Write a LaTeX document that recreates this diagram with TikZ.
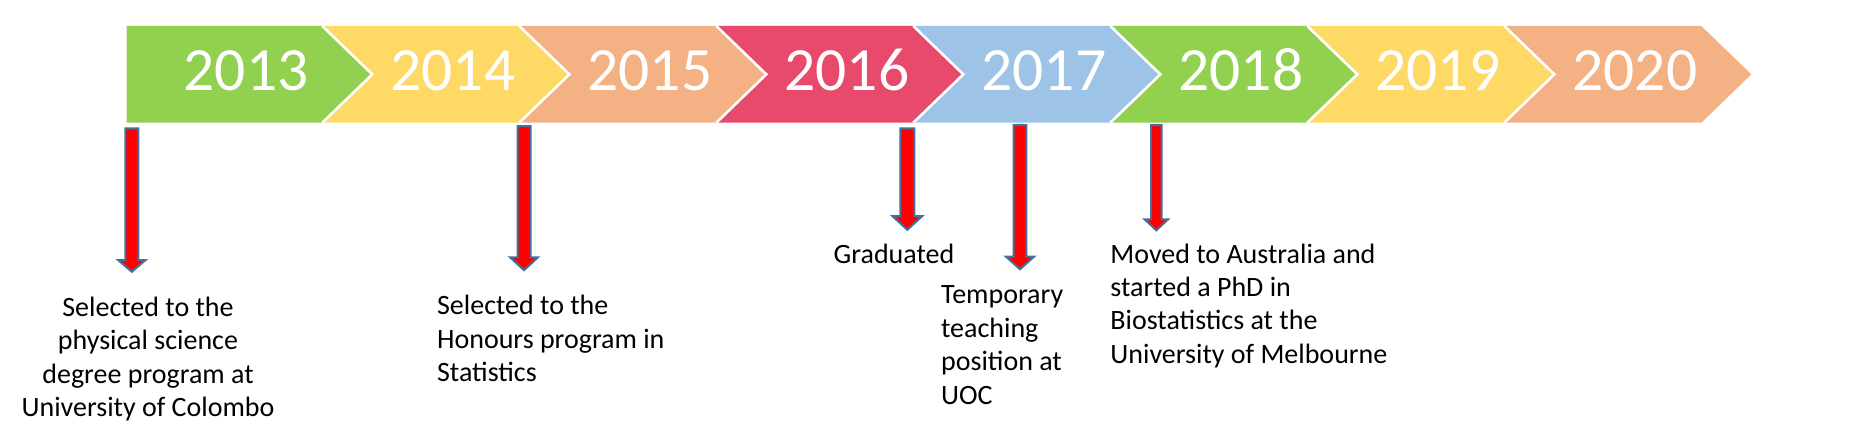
\documentclass[tikz,border=0pt]{standalone}
\usepackage{fontspec}
\setmainfont{Carlito}
\definecolor{cgreen}{HTML}{92D050}
\definecolor{cyellow}{HTML}{FFD966}
\definecolor{corange}{HTML}{F4B183}
\definecolor{cred}{HTML}{E84A6C}
\definecolor{cblue}{HTML}{9DC3E6}
\definecolor{arrowline}{HTML}{41719C}
\newcommand{\mydownarrow}[6]{% cx, half shaft, top, half head, base, tip
  \draw[evtarrow] (#1-#2,#3) -- (#1+#2,#3) -- (#1+#2,#5) -- (#1+#4,#5) -- (#1,#6)
    -- (#1-#4,#5) -- (#1-#2,#5) -- cycle;}
\begin{document}
\begin{tikzpicture}[x=0.5pt,y=-0.5pt,
  year/.style={text=white, font=\fontsize{30.75pt}{36pt}\selectfont, inner sep=0pt, anchor=base},
  lbl/.style={text=black, font=\fontsize{14pt}{16.7pt}\selectfont, inner sep=0pt},
  evtarrow/.style={fill=red, draw=arrowline, line width=1pt, line join=miter},
  sep/.style={draw=white, line width=1.3pt}]
\useasboundingbox (0,0) rectangle (1850,433);
% chevrons
\fill[cgreen] (126.7,26) -- (322.3,26) -- (372.3,74.35) -- (322.3,122.7) -- (126.7,122.7) -- cycle;
\foreach \i/\c in {1/cyellow,2/corange,3/cred,4/cblue,5/cgreen,6/cyellow,7/corange}{
  \pgfmathsetmacro{\L}{322.3+197*(\i-1)}
  \pgfmathsetmacro{\R}{322.3+197*\i}
  \fill[\c] (\L,26) -- (\R,26) -- (\R+50,74.35) -- (\R,122.7) -- (\L,122.7) -- (\L+50,74.35) -- cycle;
  \draw[sep] (\L,26) -- (\L+50,74.35) -- (\L,122.7);
}
% year labels
\node[year] (y2013) at (246,90.7) {2013};
\node[year] (y2014) at (452.8,90.7) {2014};
\node[year] (y2015) at (649.8,90.7) {2015};
\node[year] (y2016) at (846.8,90.7) {2016};
\node[year] (y2017) at (1043.8,90.7) {2017};
\node[year] (y2018) at (1240.8,90.7) {2018};
\node[year] (y2019) at (1437.8,90.7) {2019};
\node[year] (y2020) at (1634.8,90.7) {2020};
% arrows
\mydownarrow{131.8}{6.5}{128.3}{13.8}{260}{271.8}
\mydownarrow{524}{6.5}{126}{14}{257.3}{270.2}
\mydownarrow{907.3}{7}{128.3}{15}{216}{229.8}
\mydownarrow{1020}{6.3}{125}{14}{256.7}{269.3}
\mydownarrow{1156.3}{5.3}{125}{11.8}{219.3}{230.3}
% labels (base anchor = baseline of the last line)
\node[lbl, align=center, anchor=base] (e1) at (148,416.7) {Selected to the\\physical science\\degree program at\\University of Colombo};
\node[lbl, align=left, anchor=base west] (e2) at (436.7,381.7) {Selected to the\\Honours program in\\Statistics};
\node[lbl, align=left, anchor=base west] (e3) at (833.3,263.3) {Graduated};
\node[lbl, align=left, anchor=base west] (e4) at (940.7,404) {Temporary\\teaching\\position at\\UOC};
\node[lbl, align=left, anchor=base west] (e5) at (1110,363.3) {Moved to Australia and\\started a PhD in\\Biostatistics at the\\University of Melbourne};
\end{tikzpicture}
\end{document}
